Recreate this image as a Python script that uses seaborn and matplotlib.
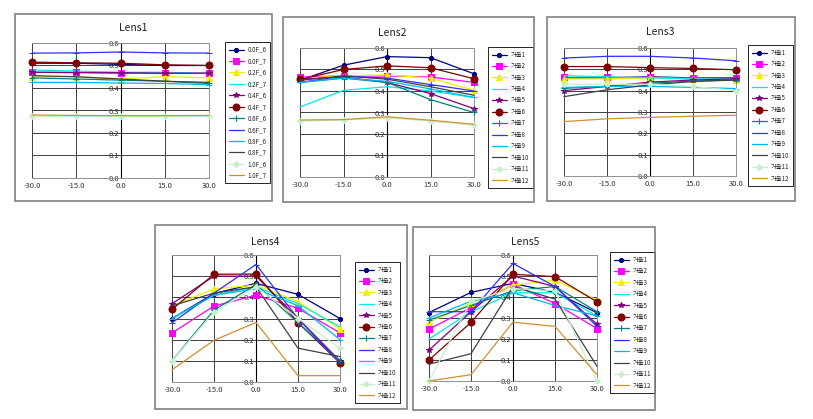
import matplotlib
matplotlib.use('Agg')
import matplotlib.pyplot as plt
import seaborn as sns
import pandas as pd
from matplotlib.patches import Rectangle

angles = [-30.0, -15.0, 0.0, 15.0, 30.0]
y_ticks = [0.0, 0.1, 0.2, 0.3, 0.4, 0.5, 0.6]

lens1_labels = ['0.0F_6', '0.0F_7', '0.2F_6', '0.2F_7', '0.4F_6', '0.4F_7',
                '0.6F_6', '0.6F_7', '0.8F_6', '0.8F_7', '1.0F_6', '1.0F_7']
mirror_labels = ['거울1', '거울2', '거울3', '거울4', '거울5', '거울6',
                 '거울7', '거울8', '거울9', '거울10', '거울11', '거울12']

lens1 = [
    [0.51, 0.51, 0.505, 0.50, 0.50],
    [0.47, 0.47, 0.465, 0.465, 0.465],
    [0.45, 0.45, 0.44, 0.45, 0.445],
    [0.48, 0.475, 0.47, 0.47, 0.465],
    [0.47, 0.468, 0.468, 0.466, 0.466],
    [0.515, 0.512, 0.51, 0.503, 0.50],
    [0.445, 0.44, 0.435, 0.43, 0.42],
    [0.555, 0.556, 0.56, 0.556, 0.555],
    [0.425, 0.425, 0.422, 0.42, 0.415],
    [0.455, 0.45, 0.44, 0.43, 0.425],
    [0.275, 0.275, 0.275, 0.275, 0.275],
    [0.28, 0.278, 0.277, 0.277, 0.278],
]
lens2 = [
    [0.45, 0.52, 0.56, 0.555, 0.48],
    [0.465, 0.47, 0.47, 0.465, 0.44],
    [0.46, 0.47, 0.475, 0.46, 0.403],
    [0.326, 0.403, 0.42, 0.40, 0.37],
    [0.455, 0.465, 0.44, 0.388, 0.318],
    [0.454, 0.50, 0.517, 0.508, 0.457],
    [0.44, 0.46, 0.44, 0.36, 0.30],
    [0.44, 0.47, 0.46, 0.43, 0.40],
    [0.44, 0.46, 0.445, 0.41, 0.37],
    [0.45, 0.47, 0.455, 0.42, 0.38],
    [0.26, 0.265, 0.275, 0.26, 0.24],
    [0.265, 0.267, 0.28, 0.264, 0.245],
]
lens3 = [
    [0.46, 0.46, 0.465, 0.46, 0.46],
    [0.462, 0.462, 0.462, 0.46, 0.458],
    [0.455, 0.455, 0.46, 0.455, 0.45],
    [0.47, 0.465, 0.46, 0.455, 0.455],
    [0.40, 0.42, 0.44, 0.45, 0.455],
    [0.513, 0.513, 0.508, 0.504, 0.498],
    [0.411, 0.42, 0.435, 0.445, 0.45],
    [0.553, 0.561, 0.561, 0.553, 0.54],
    [0.415, 0.42, 0.42, 0.415, 0.41],
    [0.372, 0.404, 0.427, 0.443, 0.45],
    [0.43, 0.43, 0.43, 0.42, 0.40],
    [0.255, 0.268, 0.275, 0.28, 0.285],
]
lens4 = [
    [0.30, 0.418, 0.466, 0.414, 0.30],
    [0.232, 0.359, 0.41, 0.348, 0.232],
    [0.36, 0.44, 0.458, 0.38, 0.25],
    [0.30, 0.41, 0.45, 0.37, 0.26],
    [0.37, 0.50, 0.50, 0.30, 0.10],
    [0.343, 0.509, 0.51, 0.281, 0.09],
    [0.10, 0.34, 0.46, 0.28, 0.10],
    [0.28, 0.42, 0.555, 0.30, 0.09],
    [0.30, 0.41, 0.44, 0.36, 0.20],
    [0.36, 0.42, 0.45, 0.16, 0.12],
    [0.10, 0.33, 0.45, 0.30, 0.16],
    [0.058, 0.197, 0.281, 0.03, 0.03],
]
lens5 = [
    [0.326, 0.422, 0.465, 0.422, 0.325],
    [0.247, 0.35, 0.46, 0.369, 0.25],
    [0.28, 0.37, 0.457, 0.48, 0.385],
    [0.20, 0.33, 0.42, 0.42, 0.31],
    [0.147, 0.33, 0.50, 0.45, 0.27],
    [0.10, 0.279, 0.508, 0.497, 0.377],
    [0.29, 0.36, 0.43, 0.45, 0.33],
    [0.33, 0.33, 0.56, 0.45, 0.26],
    [0.30, 0.38, 0.42, 0.36, 0.31],
    [0.08, 0.13, 0.45, 0.39, 0.07],
    [0.0, 0.38, 0.44, 0.43, 0.0],
    [0.0, 0.03, 0.28, 0.26, 0.03],
]

colors = ['#000080', '#FF00FF', '#F0F000', '#00E8E8', '#800080', '#800000',
          '#008080', '#3030FF', '#00B8F0', '#404040', '#C8F0C8', '#D09030']
markers = ['o', 's', '^', '', '*', 'o', '+', '_', '_', '', 'D', '']
msizes = [3, 4, 4, 3, 4, 5, 4, 4, 4, 3, 3, 3]

W, H = 813, 419


def fx(px):
    return px / W


def fy(py):
    return 1 - py / H


sns.set_style('white')
plt.rcParams['font.family'] = ['Noto Sans CJK KR', 'DejaVu Sans']

fig = plt.figure(figsize=(W / 100, H / 100), dpi=100)


def draw_panel(box, plot, leg, title_xy, title, values, labels):
    fig.patches.append(Rectangle((fx(box[0]), fy(box[3])), (box[2] - box[0]) / W,
                                 (box[3] - box[1]) / H, transform=fig.transFigure,
                                 fill=False, edgecolor='#808080', lw=1.2))
    ax = fig.add_axes([fx(plot[0]), fy(plot[3]), (plot[2] - plot[0]) / W,
                       (plot[3] - plot[1]) / H])
    df = pd.DataFrame({'angle': angles * len(values),
                       'value': [v for row in values for v in row],
                       'series': [lab for lab in labels for _ in angles]})
    for i, lab in enumerate(labels):
        sub = df[df['series'] == lab]
        sns.lineplot(data=sub, x='angle', y='value', ax=ax, color=colors[i],
                     marker=markers[i] if markers[i] else None,
                     markersize=msizes[i], markeredgecolor=colors[i],
                     lw=0.9, label=lab, clip_on=False, zorder=3)
    # spine position first: it resets the tick objects
    ax.spines['left'].set_position(('data', 0))
    ax.spines['left'].set_color('black')
    ax.spines['left'].set_zorder(2)
    for s in ['top', 'right', 'bottom']:
        ax.spines[s].set_color('#909090')
        ax.spines[s].set_linewidth(0.7)
    ax.set_xlim(-30, 30)
    ax.set_ylim(0, 0.6)
    ax.set_xticks(angles)
    ax.set_yticks(y_ticks)
    ax.set_xticklabels([f'{a:.1f}' for a in angles])
    ax.set_yticklabels([f'{t:.1f}' for t in y_ticks])
    ax.tick_params(axis='both', labelsize=5.5, labelcolor='#333333')
    ax.tick_params(axis='y', length=0, pad=1)
    ax.tick_params(axis='x', length=0, pad=3)
    ax.grid(True, color='#404040', lw=0.7)
    ax.set_xlabel('')
    ax.set_ylabel('')
    ax.patch.set_alpha(0)
    handles, labs = ax.get_legend_handles_labels()
    ax.legend(handles, labs, loc='upper left', bbox_to_anchor=(fx(leg[0]), fy(leg[1])),
              bbox_transform=fig.transFigure, fontsize=4.5, frameon=True,
              fancybox=False, edgecolor='black', framealpha=1,
              borderpad=0.6, labelspacing=0.55, handlelength=2.4,
              handletextpad=0.6, borderaxespad=0)
    ax.get_legend().get_frame().set_linewidth(0.6)
    fig.text(fx(title_xy[0]), fy(title_xy[1]), title, ha='center', va='center',
             fontsize=7.5, color='#222222')


draw_panel((15, 14, 272, 201), (32, 43, 209, 178), (225, 42), (133, 28), 'Lens1', lens1, lens1_labels)
draw_panel((283, 17, 534, 202), (300, 48, 474, 177), (488, 47), (392, 33), 'Lens2', lens2, mirror_labels)
draw_panel((547, 17, 795, 201), (564, 48, 736, 176), (748, 45), (660, 32), 'Lens3', lens3, mirror_labels)
draw_panel((155, 225, 407, 409), (172, 255, 340, 382), (355, 262), (265, 242), 'Lens4', lens4, mirror_labels)
draw_panel((413, 227, 655, 410), (429, 255, 597, 381), (610, 252), (525, 242), 'Lens5', lens5, mirror_labels)

fig.savefig('out.png', dpi=100)
